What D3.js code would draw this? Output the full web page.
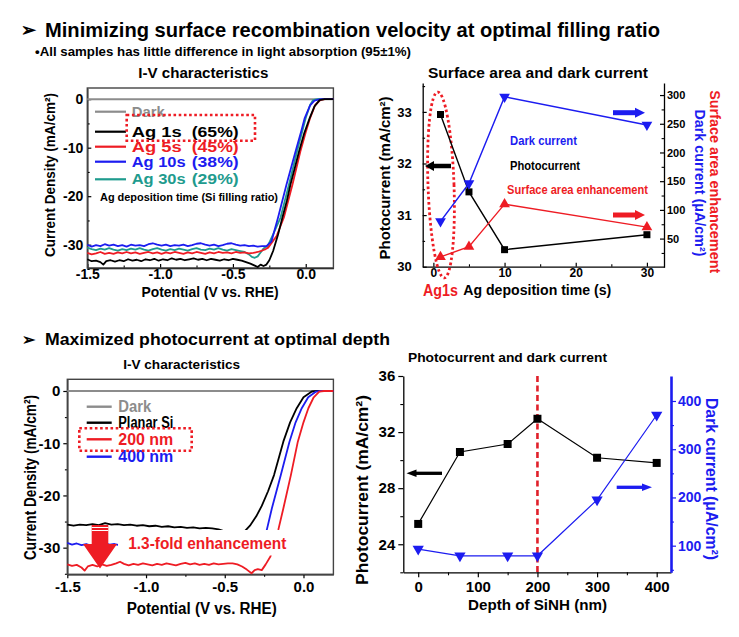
<!DOCTYPE html>
<html><head><meta charset="utf-8">
<script src="https://cdn.jsdelivr.net/npm/d3@7"></script>
<style>
body{margin:0;background:#fff;}
svg{display:block;}
</style></head><body>
<svg id="c" width="739" height="637"></svg>
<script>
// ---------------- DATA ----------------
const headerTitles = ["Minimizing surface recombination velocity at optimal filling ratio", "Maximized photocurrent at optimal depth"];
const headerNote = "\u2022All samples has little difference in light absorption (95\u00b11%)";

// Panel 1: I-V for Ag deposition times  [V, J]
const ivA_names = ["Dark", "Ag 1s", "Ag 5s", "Ag 10s", "Ag 30s"];
const ivA_ratio = ["", "(65%)", "(45%)", "(38%)", "(29%)"];
const ivA_dark = [[-1.5,0],[0.19,0]];
const ivA_1s = [[-1.50,-33.0],[-1.47,-33.4],[-1.44,-33.3],[-1.41,-33.6],[-1.39,-34.1],[-1.37,-33.4],[-1.34,-33.2],[-1.31,-33.5],[-1.28,-33.2],[-1.25,-33.4],[-1.22,-33.0],[-1.19,-33.3],[-1.16,-33.1],[-1.13,-33.4],[-1.10,-33.0],[-1.07,-33.2],[-1.04,-32.9],[-1.01,-33.3],[-0.98,-33.0],[-0.95,-33.2],[-0.92,-32.8],[-0.89,-33.1],[-0.86,-32.9],[-0.83,-33.2],[-0.80,-33.0],[-0.77,-32.8],[-0.74,-33.1],[-0.71,-32.9],[-0.68,-33.2],[-0.65,-32.9],[-0.62,-33.1],[-0.59,-33.3],[-0.56,-33.0],[-0.53,-33.2],[-0.50,-32.9],[-0.47,-33.1],[-0.44,-33.3],[-0.41,-33.6],[-0.38,-33.9],[-0.35,-34.3],[-0.33,-34.6],[-0.31,-34.1],[-0.29,-34.4],[-0.27,-34.1],[-0.25,-33.2],[-0.224,-31.3],[-0.19,-27.9],[-0.16,-24.4],[-0.13,-21.0],[-0.105,-17.6],[-0.075,-14.2],[-0.046,-10.8],[-0.01,-7.0],[0.027,-3.9],[0.06,-1.5],[0.095,-0.2],[0.13,0],[0.19,0]];
const ivA_5s = [[-1.50,-31.7],[-1.47,-32.0],[-1.44,-31.8],[-1.41,-31.5],[-1.38,-31.9],[-1.35,-31.7],[-1.32,-31.9],[-1.29,-31.6],[-1.26,-31.8],[-1.23,-31.5],[-1.20,-31.8],[-1.17,-31.6],[-1.14,-31.9],[-1.11,-31.7],[-1.08,-31.5],[-1.05,-31.8],[-1.02,-31.6],[-0.99,-31.9],[-0.96,-31.6],[-0.93,-31.8],[-0.90,-31.5],[-0.87,-31.7],[-0.84,-31.9],[-0.81,-31.6],[-0.78,-31.8],[-0.75,-31.5],[-0.72,-31.7],[-0.69,-31.9],[-0.66,-31.6],[-0.63,-31.8],[-0.60,-31.5],[-0.57,-31.7],[-0.54,-31.6],[-0.51,-31.8],[-0.48,-31.5],[-0.45,-31.7],[-0.42,-31.6],[-0.39,-31.8],[-0.36,-31.7],[-0.33,-31.5],[-0.30,-31.2],[-0.275,-30.9],[-0.258,-30.6],[-0.2,-28.2],[-0.15,-24.4],[-0.091,-17.6],[-0.037,-10.8],[0.0,-6.8],[0.03,-3.9],[0.065,-1.2],[0.1,-0.2],[0.13,0],[0.19,0]];
const ivA_10s = [[-1.50,-30.0],[-1.47,-30.4],[-1.44,-30.1],[-1.41,-30.3],[-1.38,-29.9],[-1.35,-30.2],[-1.32,-30.0],[-1.29,-30.3],[-1.26,-30.1],[-1.23,-30.4],[-1.20,-30.0],[-1.17,-30.2],[-1.14,-30.1],[-1.11,-30.3],[-1.08,-29.9],[-1.05,-29.7],[-1.02,-30.0],[-0.99,-30.2],[-0.96,-30.0],[-0.93,-30.3],[-0.90,-30.1],[-0.87,-30.2],[-0.84,-30.0],[-0.81,-30.3],[-0.78,-30.1],[-0.75,-29.8],[-0.72,-29.7],[-0.69,-30.0],[-0.66,-30.2],[-0.63,-30.0],[-0.60,-30.3],[-0.57,-30.1],[-0.54,-29.8],[-0.51,-29.7],[-0.48,-30.0],[-0.45,-30.2],[-0.42,-30.1],[-0.39,-30.3],[-0.36,-30.2],[-0.33,-30.4],[-0.30,-30.3],[-0.27,-30.3],[-0.235,-29.3],[-0.19,-24.4],[-0.132,-17.6],[-0.07,-10.8],[-0.03,-6.5],[-0.007,-3.9],[0.03,-1.3],[0.06,-0.3],[0.1,0],[0.19,0]];
const ivA_30s = [[-1.50,-30.6],[-1.47,-30.9],[-1.44,-31.1],[-1.41,-30.8],[-1.38,-31.0],[-1.35,-30.7],[-1.32,-31.0],[-1.29,-31.2],[-1.26,-30.9],[-1.23,-31.1],[-1.20,-30.8],[-1.17,-31.0],[-1.14,-30.7],[-1.11,-31.0],[-1.08,-31.2],[-1.05,-30.9],[-1.02,-30.7],[-0.99,-31.0],[-0.96,-31.2],[-0.93,-30.9],[-0.90,-31.1],[-0.87,-30.8],[-0.84,-31.0],[-0.81,-31.2],[-0.78,-30.9],[-0.75,-30.7],[-0.72,-31.0],[-0.69,-31.1],[-0.66,-30.8],[-0.63,-31.0],[-0.60,-30.7],[-0.57,-31.0],[-0.54,-31.2],[-0.51,-30.9],[-0.48,-31.1],[-0.45,-31.3],[-0.42,-31.5],[-0.39,-32.0],[-0.37,-32.5],[-0.35,-32.7],[-0.33,-32.4],[-0.31,-31.6],[-0.29,-30.8],[-0.26,-30.2],[-0.22,-27.6],[-0.173,-24.4],[-0.115,-17.6],[-0.06,-10.8],[0.0,-3.9],[0.03,-1.2],[0.05,-0.2],[0.08,0],[0.19,0]];

// Panel 2: Ag deposition time vs photocurrent / dark current / surface area
const agTime = [1, 5, 10, 30];
const agPhotocurrent = [32.95, 31.45, 30.33, 30.62];
const agDarkCurrent = [80, 146, 297, 248];
const agSurfaceArea = [18, 36, 110, 70];

// Panel 3: I-V for depth
const ivB_names = ["Dark", "Planar Si", "200 nm", "400 nm"];
const ivB_dark = [[-1.5,0],[0.19,0]];
const ivB_planar = [[-1.50,-25.6],[-1.46,-25.8],[-1.42,-25.6],[-1.38,-25.7],[-1.34,-25.5],[-1.30,-25.7],[-1.26,-25.3],[-1.22,-25.6],[-1.18,-25.5],[-1.14,-25.7],[-1.10,-25.6],[-1.06,-25.8],[-1.02,-25.7],[-0.98,-25.9],[-0.94,-25.8],[-0.90,-26.0],[-0.86,-25.9],[-0.82,-26.1],[-0.78,-26.0],[-0.74,-26.2],[-0.70,-26.1],[-0.66,-26.3],[-0.62,-26.2],[-0.58,-26.3],[-0.54,-26.5],[-0.50,-26.9],[-0.46,-27.0],[-0.42,-27.1],[-0.39,-27.0],[-0.371,-26.8],[-0.34,-25.8],[-0.30,-24.0],[-0.265,-22.0],[-0.225,-19.2],[-0.187,-16.1],[-0.128,-9.7],[-0.085,-6.0],[-0.043,-3.3],[0.0,-1.2],[0.053,-0.1],[0.09,0],[0.19,0]];
const ivB_200 = [[-1.50,-33.2],[-1.47,-33.5],[-1.44,-33.3],[-1.41,-33.8],[-1.39,-34.4],[-1.37,-33.6],[-1.34,-33.3],[-1.31,-33.6],[-1.28,-33.2],[-1.25,-33.5],[-1.22,-33.3],[-1.19,-33.0],[-1.165,-32.7],[-1.14,-33.1],[-1.11,-33.4],[-1.08,-33.1],[-1.05,-33.3],[-1.02,-33.0],[-0.99,-33.2],[-0.96,-33.4],[-0.93,-33.1],[-0.90,-33.3],[-0.87,-33.0],[-0.84,-33.2],[-0.81,-33.4],[-0.78,-33.1],[-0.75,-32.9],[-0.72,-33.2],[-0.69,-33.0],[-0.66,-33.3],[-0.63,-33.1],[-0.60,-33.3],[-0.57,-33.0],[-0.54,-33.2],[-0.51,-33.1],[-0.48,-33.0],[-0.45,-33.0],[-0.42,-33.2],[-0.39,-33.6],[-0.36,-34.2],[-0.33,-34.9],[-0.31,-34.3],[-0.29,-34.1],[-0.265,-34.3],[-0.24,-33.2],[-0.21,-31.7],[-0.185,-29.2],[-0.16,-26.6],[-0.128,-22.5],[-0.08,-16.1],[-0.036,-9.7],[0.0,-6.0],[0.031,-3.3],[0.065,-1.2],[0.1,-0.1],[0.13,0],[0.19,0]];
const ivB_400 = [[-1.50,-29.1],[-1.47,-29.4],[-1.44,-29.2],[-1.41,-29.5],[-1.38,-29.3],[-1.35,-29.6],[-1.32,-29.3],[-1.29,-29.5],[-1.26,-29.2],[-1.23,-29.4],[-1.20,-29.3],[-1.17,-29.5],[-1.14,-29.4],[-1.0,-29.5],[-0.8,-29.6],[-0.6,-29.7],[-0.4,-29.8],[-0.3,-29.5],[-0.26,-28.4],[-0.233,-26.6],[-0.201,-22.5],[-0.144,-16.1],[-0.089,-9.7],[-0.05,-6.0],[-0.011,-3.3],[0.03,-1.2],[0.08,-0.1],[0.11,0],[0.19,0]];

// Panel 4: depth of SiNH
const depth = [0, 70, 150, 200, 300, 400];
const depthPhotocurrent = [25.45, 30.58, 31.15, 32.95, 30.17, 29.8];
const depthDarkCurrent = [93, 79, 79, 79, 195, 371];

// tick values
const ivXTicks = [-1.5, -1.0, -0.5, 0.0];
const ivXMinor = [-1.25, -0.75, -0.25];
const ivYTicks = [0, -10, -20, -30];
const ivYMinor = [-5, -15, -25, -35];
const agXTicks = [0, 10, 20, 30];
const agXMinor = [5, 15, 25];
const agYLTicks = [30, 31, 32, 33];
const agYLMinor = [30.5, 31.5, 32.5, 33.5];
const agYRTicks = [50, 100, 150, 200, 250, 300];
const agYRMinor = [25, 75, 125, 175, 225, 275];
const dXTicks = [0, 100, 200, 300, 400];
const dXMinor = [50, 150, 250, 350];
const dYLTicks = [24, 28, 32, 36];
const dYLMinor = [22, 26, 30, 34];
const dYRTicks = [100, 200, 300, 400];
const dYRMinor = [50, 150, 250, 350];

// ---------------- DRAWING ----------------
const FONT = '"Liberation Sans", Arial, Helvetica, sans-serif';
const RED = "#ee1c24", BLUE = "#1c1cf0", TEAL = "#1f9b8e", GRAY = "#8c8c8c";
const svg = d3.select("#c").attr("font-family", FONT);

function T(g, s, x, y, o = {}) {
  const size = o.size || 14;
  const t = g.append("text").attr("x", x).attr("y", y + size * 0.35)
    .attr("font-size", size).attr("font-weight", "bold").attr("fill", o.fill || "#000")
    .attr("text-anchor", o.anchor || "start").text(s);
  if (o.len) t.attr("textLength", o.len).attr("lengthAdjust", "spacingAndGlyphs");
  if (o.rot) t.attr("transform", `rotate(${o.rot},${x},${y})`);
  return t;
}

function drawAxis(g, fn, scale, tr, major, fmt, minor, size, pad, fs, color, dw) {
  const a = g.append("g").attr("transform", tr)
    .call(fn(scale).tickValues(major).tickFormat(fmt).tickSize(size).tickPadding(pad).tickSizeOuter(0));
  a.attr("font-family", FONT);
  a.selectAll("text").attr("font-size", fs).attr("font-weight", "bold").attr("fill", color);
  a.selectAll(".tick line").attr("stroke", color).attr("stroke-width", 1.2);
  a.select(".domain").attr("stroke", color).attr("stroke-width", dw || 1.3);
  if (minor) {
    const m = g.append("g").attr("transform", tr)
      .call(fn(scale).tickValues(minor).tickFormat(() => "").tickSize(size * 0.6).tickSizeOuter(0));
    m.select(".domain").remove();
    m.selectAll(".tick line").attr("stroke", color).attr("stroke-width", 1.1);
  }
  return a;
}

function arrowH(g, x1, x2, y, color, sw, hl, hw) {
  const dir = Math.sign(x2 - x1);
  g.append("line").attr("x1", x1).attr("x2", x2 - dir * hl * 0.8).attr("y1", y).attr("y2", y)
    .attr("stroke", color).attr("stroke-width", sw);
  g.append("path").attr("d", `M${x2},${y} L${x2 - dir * hl},${y - hw / 2} L${x2 - dir * hl},${y + hw / 2} Z`).attr("fill", color);
}

// ---- Headers ----
T(svg, "\u27A2", 21, 30, { size: 18 });
T(svg, headerTitles[0], 45, 30, { size: 21, len: 615 });
T(svg, headerNote, 35, 51, { size: 13, len: 376 });
T(svg, "\u27A2", 22, 339, { size: 16 });
T(svg, headerTitles[1], 45, 339, { size: 17, len: 345 });

const line = (xs, ys) => d3.line().x(d => xs(d[0])).y(d => ys(d[1]));

// ---- Panel 1 ----
{
  const g = svg.append("g");
  const x = d3.scaleLinear().domain([-1.5, 0.19]).range([87.3, 333.4]);
  const y = d3.scaleLinear().domain([-34.8, 2.3]).range([268, 88]);
  const fmt = d => d.toFixed(1);
  drawAxis(g, d3.axisBottom, x, "translate(0,268)", ivXTicks, fmt, ivXMinor, -4, 1.5, 14, "#000");
  drawAxis(g, d3.axisLeft, y, "translate(87.3,0)", ivYTicks, d => String(d), ivYMinor, -4, 4, 14, "#000");
  g.append("rect").attr("x", 87.3).attr("y", 88).attr("width", 333.4 - 87.3).attr("height", 180)
    .attr("fill", "none").attr("stroke", "#444").attr("stroke-width", 1.4);
  const series = [[ivA_dark, GRAY], [ivA_30s, TEAL], [ivA_5s, RED], [ivA_10s, BLUE], [ivA_1s, "#000"]];
  series.forEach(([d, c]) => g.append("path").attr("d", line(x, y)(d)).attr("fill", "none")
    .attr("stroke", c).attr("stroke-width", d === ivA_dark ? 2 : 1.8).attr("stroke-linejoin", "round"));
  // legend
  const cols = [GRAY, "#000", RED, BLUE, TEAL];
  const rows = [111.7, 131.7, 146.7, 161.7, 179.3];
  ivA_names.forEach((n, i) => {
    g.append("line").attr("x1", 95).attr("x2", 126).attr("y1", rows[i]).attr("y2", rows[i])
      .attr("stroke", cols[i]).attr("stroke-width", 2.2);
    T(g, n, 131.7, rows[i], { size: 14.5, fill: cols[i], len: i === 0 ? 33 : (n.length === 5 ? 50 : 54) });
    if (ivA_ratio[i]) T(g, ivA_ratio[i], 191.7, rows[i], { size: 14.5, fill: cols[i], len: 47 });
  });
  T(g, "Ag deposition time (Si filling ratio)", 100, 196.7, { size: 11, len: 178 });
  g.append("rect").attr("x", 126.7).attr("y", 115).attr("width", 128.3).attr("height", 25.7)
    .attr("fill", "none").attr("stroke", RED).attr("stroke-width", 2.6).attr("stroke-dasharray", "2.6,2.6");
  T(g, "I-V characteristics", 203.3, 73, { size: 14, anchor: "middle", len: 130 });
  T(g, "Current Density (mA/cm\u00b2)", 50, 175, { size: 15, anchor: "middle", len: 164, rot: -90 });
  T(g, "Potential (V vs. RHE)", 210, 291.7, { size: 15, anchor: "middle", len: 137 });
}

// ---- Panel 2 ----
{
  const g = svg.append("g");
  const x = d3.scaleLinear().domain([-1.5, 32.4]).range([422.7, 664]);
  const yL = d3.scaleLinear().domain([30, 33.56]).range([266.7, 83]);
  const yR = d3.scaleLinear().domain([0, 321]).range([267.3, 83]);
  const yS = d3.scaleLinear().domain([0, 321]).range([267.3, 83]);
  drawAxis(g, d3.axisBottom, x, "translate(0,266.7)", agXTicks, d => String(d), agXMinor, -4, 2, 12, "#000");
  drawAxis(g, d3.axisLeft, yL, "translate(422.7,0)", agYLTicks, d => String(d), agYLMinor, -4, 11, 13, "#000");
  drawAxis(g, d3.axisRight, yR, "translate(664,0)", agYRTicks, d => String(d), agYRMinor, -4, 3, 11, "#000");
  // ellipse
  g.append("ellipse").attr("cx", 0).attr("cy", 0).attr("rx", 13).attr("ry", 93)
    .attr("transform", "translate(441,185) rotate(-2)")
    .attr("fill", "none").attr("stroke", RED).attr("stroke-width", 2.8).attr("stroke-dasharray", "2.6,2.6");
  const pts = (vals) => agTime.map((t, i) => [t, vals[i]]);
  g.append("path").attr("d", line(x, yL)(pts(agPhotocurrent))).attr("fill", "none").attr("stroke", "#000").attr("stroke-width", 1.4);
  g.append("path").attr("d", line(x, yR)(pts(agDarkCurrent))).attr("fill", "none").attr("stroke", BLUE).attr("stroke-width", 1.5);
  g.append("path").attr("d", line(x, yS)(pts(agSurfaceArea))).attr("fill", "none").attr("stroke", RED).attr("stroke-width", 1.4);
  const sq = d3.symbol().type(d3.symbolSquare).size(49)();
  const tri = d3.symbol().type(d3.symbolTriangle).size(50)();
  agTime.forEach((t, i) => {
    g.append("path").attr("d", sq).attr("transform", `translate(${x(t)},${yL(agPhotocurrent[i])})`).attr("fill", "#000");
    g.append("path").attr("d", tri).attr("transform", `translate(${x(t)},${yR(agDarkCurrent[i])}) rotate(180)`).attr("fill", BLUE);
    g.append("path").attr("d", tri).attr("transform", `translate(${x(t)},${yS(agSurfaceArea[i])})`).attr("fill", RED);
  });
  T(g, "Dark current", 510, 141, { size: 12, fill: BLUE, len: 67 });
  T(g, "Photocurrent", 510, 166, { size: 12, fill: "#000", len: 70 });
  T(g, "Surface area enhancement", 507, 189.3, { size: 12, fill: RED, len: 141 });
  arrowH(g, 451, 425, 166, "#000", 4.5, 9, 10);
  arrowH(g, 613, 645, 112.7, BLUE, 5, 10, 10);
  arrowH(g, 613, 645, 215, RED, 5, 10, 10);
  T(g, "Surface area and dark current", 538, 73, { size: 14, anchor: "middle", len: 220 });
  T(g, "Photocurrent (mA/cm\u00b2)", 385, 178, { size: 15, anchor: "middle", len: 163, rot: -90 });
  T(g, "Dark current (\u03bcA/cm\u00b2)", 700, 183, { size: 15, anchor: "middle", len: 147, rot: 90, fill: BLUE });
  T(g, "Surface area enhancement", 715, 181.7, { size: 15, anchor: "middle", len: 183, rot: 90, fill: RED });
  T(g, "Ag1s", 423, 290, { size: 17, fill: RED, len: 35 });
  T(g, "Ag deposition time (s)", 463.3, 290, { size: 14, len: 148 });
}

// ---- Panel 3 ----
{
  const g = svg.append("g");
  const x = d3.scaleLinear().domain([-1.5, 0.19]).range([67.3, 333.4]);
  const y = d3.scaleLinear().domain([-35.1, 2.24]).range([574.3, 379.3]);
  const fmt = d => d.toFixed(1);
  drawAxis(g, d3.axisBottom, x, "translate(0,574.3)", ivXTicks, fmt, ivXMinor, 4, 3, 15, "#000");
  drawAxis(g, d3.axisLeft, y, "translate(67.3,0)", ivYTicks, d => String(d), ivYMinor, 4, 3, 15, "#000");
  g.append("rect").attr("x", 67.3).attr("y", 379.3).attr("width", 333.4 - 67.3).attr("height", 195)
    .attr("fill", "none").attr("stroke", "#444").attr("stroke-width", 1.4);
  const series = [[ivB_dark, GRAY], [ivB_planar, "#000"], [ivB_400, BLUE], [ivB_200, RED]];
  series.forEach(([d, c]) => g.append("path").attr("d", line(x, y)(d)).attr("fill", "none")
    .attr("stroke", c).attr("stroke-width", d === ivB_dark ? 2.2 : 1.8).attr("stroke-linejoin", "round"));
  // white label box
  g.append("rect").attr("x", 118).attr("y", 530).attr("width", 171).attr("height", 25.5).attr("fill", "#fff");
  T(g, "1.3-fold enhancement", 128.3, 543.3, { size: 16, fill: RED, len: 158 });
  // red block arrow
  const ax = 100;
  g.append("path").attr("d", `M${ax - 8.3},525 L${ax + 8.3},525 L${ax + 8.3},544 L${ax + 17},544 L${ax},568.5 L${ax - 17},544 L${ax - 8.3},544 Z`).attr("fill", RED);
  g.append("line").attr("x1", ax - 8.3).attr("x2", ax + 8.3).attr("y1", 527.5).attr("y2", 527.5).attr("stroke", "#fff").attr("stroke-width", 1);
  g.append("line").attr("x1", ax - 8.3).attr("x2", ax + 8.3).attr("y1", 530.5).attr("y2", 530.5).attr("stroke", "#fff").attr("stroke-width", 1);
  // legend
  const cols = [GRAY, "#000", RED, BLUE];
  const rows = [406.7, 422.7, 439.3, 456.7];
  const lens = [33, 55, 55, 55];
  ivB_names.forEach((n, i) => {
    g.append("line").attr("x1", 86.7).attr("x2", 111.7).attr("y1", rows[i]).attr("y2", rows[i])
      .attr("stroke", cols[i]).attr("stroke-width", 2.4);
    T(g, n, 118.3, rows[i], { size: 16, fill: cols[i], len: lens[i] });
  });
  g.append("rect").attr("x", 79.3).attr("y", 428.3).attr("width", 112.4).attr("height", 22.4)
    .attr("fill", "none").attr("stroke", RED).attr("stroke-width", 2.6).attr("stroke-dasharray", "2.6,2.6");
  T(g, "I-V characteristics", 181.7, 364, { size: 13, anchor: "middle", len: 117 });
  T(g, "Current Density (mA/cm\u00b2)", 30, 477.5, { size: 16, anchor: "middle", len: 165, rot: -90 });
  T(g, "Potential (V vs. RHE)", 201.7, 608.3, { size: 16, anchor: "middle", len: 150 });
}

// ---- Panel 4 ----
{
  const g = svg.append("g");
  const x = d3.scaleLinear().domain([-25, 424]).range([403.3, 671]);
  const yL = d3.scaleLinear().domain([22, 36]).range([572.3, 376]);
  const yR = d3.scaleLinear().domain([44.8, 451.8]).range([572.3, 376]);
  drawAxis(g, d3.axisBottom, x, "translate(0,572.3)", dXTicks, d => String(d), dXMinor, 5, 4, 15, "#000");
  drawAxis(g, d3.axisLeft, yL, "translate(403.3,0)", dYLTicks, d => String(d), dYLMinor, 5, 3, 15, "#000");
  drawAxis(g, d3.axisRight, yR, "translate(671,0)", dYRTicks, d => String(d), dYRMinor, 5, 2, 14, BLUE, 2.6);
  g.append("line").attr("x1", x(200)).attr("x2", x(200)).attr("y1", 376).attr("y2", 572.3)
    .attr("stroke", "#e0202a").attr("stroke-width", 2.6).attr("stroke-dasharray", "6,3.5");
  const pts = (vals) => depth.map((t, i) => [t, vals[i]]);
  g.append("path").attr("d", line(x, yL)(pts(depthPhotocurrent))).attr("fill", "none").attr("stroke", "#000").attr("stroke-width", 1.2);
  g.append("path").attr("d", line(x, yR)(pts(depthDarkCurrent))).attr("fill", "none").attr("stroke", BLUE).attr("stroke-width", 1.2);
  const sq = d3.symbol().type(d3.symbolSquare).size(64)();
  const tri = d3.symbol().type(d3.symbolTriangle).size(55)();
  depth.forEach((t, i) => {
    g.append("path").attr("d", sq).attr("transform", `translate(${x(t)},${yL(depthPhotocurrent[i])})`).attr("fill", "#000");
    g.append("path").attr("d", tri).attr("transform", `translate(${x(t)},${yR(depthDarkCurrent[i])}) rotate(180)`).attr("fill", BLUE);
  });
  arrowH(g, 442, 406.5, 473.3, "#000", 3.3, 10, 7.5);
  arrowH(g, 616.7, 652, 487.3, BLUE, 3.3, 10, 7.5);
  T(g, "Photocurrent and dark current", 507.5, 357, { size: 13, anchor: "middle", len: 199 });
  T(g, "Photocurrent (mA/cm\u00b2)", 362, 490, { size: 16, anchor: "middle", len: 190, rot: -90 });
  T(g, "Dark current (\u03bcA/cm\u00b2)", 711.7, 479, { size: 16, anchor: "middle", len: 162, rot: 90, fill: BLUE });
  T(g, "Depth of SiNH (nm)", 537.5, 605, { size: 15, anchor: "middle", len: 139 });
}
</script>
</body></html>
